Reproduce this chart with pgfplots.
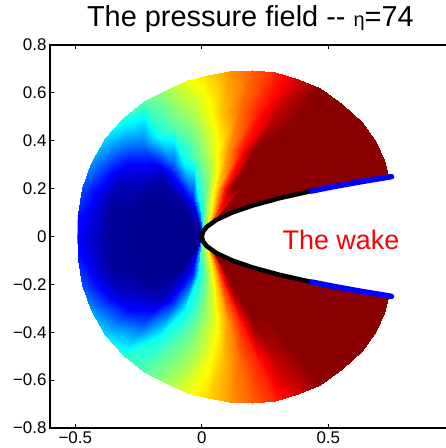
\documentclass[border=0pt]{standalone}
\usepackage{pgfplots}
\pgfplotsset{compat=1.18}
\usepackage{fontspec}
\setmainfont{Liberation Sans}
\begin{document}
\begin{tikzpicture}
\begin{axis}[name=ax, scale only axis, width=404.8bp, height=383bp,
  xmin=-0.6, xmax=1.0, ymin=-0.8, ymax=0.8,
  xtick={-0.5,0,0.5}, xticklabels={−0.5,0,0.5},
  ytick={-0.8,-0.6,-0.4,-0.2,0,0.2,0.4,0.6,0.8},
  yticklabels={−0.8,−0.6,−0.4,−0.2,0,0.2,0.4,0.6,0.8},
  tick label style={font=\fontsize{17}{17}\selectfont},
  tick align=inside, major tick length=4bp, tick style={black, line width=0.8bp},
  axis line style={line width=1.2bp},
  colormap={mjet}{rgb255(0cm)=(0,0,143) rgb255(1cm)=(0,0,255) rgb255(3cm)=(0,255,255) rgb255(5cm)=(255,255,0) rgb255(7cm)=(255,0,0) rgb255(8cm)=(138,0,0)},
  point meta min=0, point meta max=1,
  title={The pressure field -{}- {\fontsize{20}{20}\selectfont η}=74},
  title style={font=\fontsize{29}{29}\selectfont, at={(0.5,1)}, anchor=base, yshift=13bp, xshift=-2bp},
]
\addplot[surf, shader=interp, mesh/rows=39, mesh/cols=5, point meta=explicit]
 table[x expr={\thisrow{r}*cos(\thisrow{t})}, y expr={\thisrow{r}*sin(\thisrow{t})}, meta=v] {
t r v
19 0.743 1
19 0.752 1
19 0.762 1
19 0.771 1
19 0.780 1
24 0.460 1
24 0.543 1
24 0.625 1
24 0.708 1
24 0.790 1
30 0.289 1
30 0.415 1
30 0.541 1
30 0.667 1
30 0.793 1
37 0.184 1
37 0.336 1
37 0.489 1
37 0.641 1
37 0.793 1
45 0.118 1
45 0.285 1
45 0.452 1
45 0.618 1
45 0.785 1
53 0.079 1
53 0.253 1
53 0.427 1
53 0.601 1
53 0.775 1
60 0.056 0.75
60 0.232 1
60 0.408 1
60 0.584 0.95
60 0.760 0.92
67 0.038 0.62
67 0.215 0.82
67 0.392 0.85
67 0.568 0.845
67 0.745 0.84
74 0.025 0.55
74 0.200 0.67
74 0.375 0.73
74 0.550 0.77
74 0.725 0.78
81 0.013 0.50
81 0.185 0.55
81 0.357 0.61
81 0.528 0.69
81 0.700 0.725
88 0.003 0.45
88 0.171 0.44
88 0.339 0.53
88 0.507 0.60
88 0.675 0.665
95 0 0.30
95 0.164 0.38
95 0.3275 0.45
95 0.491 0.525
95 0.655 0.61
103 0 0.10
103 0.1575 0.15
103 0.315 0.37
103 0.4725 0.47
103 0.630 0.53
112 0 0
112 0.1525 0.06
112 0.305 0.18
112 0.4575 0.39
112 0.610 0.46
122 0 0
122 0.146 0
122 0.2925 0.04
122 0.439 0.22
122 0.585 0.41
133 0 0
133 0.14 0
133 0.28 0.01
133 0.42 0.13
133 0.56 0.34
145 0 0
145 0.134 0
145 0.2675 0
145 0.401 0.06
145 0.535 0.27
157 0 0
157 0.129 0
157 0.2575 0
157 0.386 0.02
157 0.515 0.20
169 0 0
169 0.125 0
169 0.25 0
169 0.375 0.015
169 0.50 0.15
180 0 0
180 0.1225 0
180 0.245 0
180 0.3675 0.01
180 0.49 0.12
191 0 0
191 0.125 0
191 0.25 0
191 0.375 0.015
191 0.50 0.15
203 0 0
203 0.129 0
203 0.2575 0
203 0.386 0.02
203 0.515 0.20
215 0 0
215 0.134 0
215 0.2675 0
215 0.401 0.06
215 0.535 0.27
227 0 0
227 0.14 0
227 0.28 0.01
227 0.42 0.13
227 0.56 0.34
238 0 0
238 0.146 0
238 0.2925 0.04
238 0.439 0.22
238 0.585 0.41
248 0 0
248 0.1525 0.06
248 0.305 0.18
248 0.4575 0.39
248 0.610 0.46
257 0 0.10
257 0.1575 0.15
257 0.315 0.37
257 0.4725 0.47
257 0.630 0.53
265 0 0.30
265 0.164 0.38
265 0.3275 0.45
265 0.491 0.525
265 0.655 0.61
272 0.003 0.45
272 0.171 0.44
272 0.339 0.53
272 0.507 0.60
272 0.675 0.665
279 0.013 0.50
279 0.185 0.55
279 0.357 0.61
279 0.528 0.69
279 0.700 0.725
286 0.025 0.55
286 0.200 0.67
286 0.375 0.73
286 0.550 0.77
286 0.725 0.78
293 0.038 0.62
293 0.215 0.82
293 0.392 0.85
293 0.568 0.845
293 0.745 0.84
300 0.056 0.75
300 0.232 1
300 0.408 1
300 0.584 0.95
300 0.760 0.92
307 0.079 1
307 0.253 1
307 0.427 1
307 0.601 1
307 0.775 1
315 0.118 1
315 0.285 1
315 0.452 1
315 0.618 1
315 0.785 1
323 0.184 1
323 0.336 1
323 0.489 1
323 0.641 1
323 0.793 1
330 0.289 1
330 0.415 1
330 0.541 1
330 0.667 1
330 0.793 1
336 0.460 1
336 0.543 1
336 0.625 1
336 0.708 1
336 0.790 1
341 0.743 1
341 0.752 1
341 0.762 1
341 0.771 1
341 0.780 1
};
\addplot[black, line width=4.5bp, no marks] coordinates {
(0.4332,-0.19) (0.3072,-0.16) (0.2028,-0.13) (0.12,-0.10) (0.0588,-0.07) (0.0192,-0.04) (0.0048,-0.02) (0,0)
(0.0048,0.02) (0.0192,0.04) (0.0588,0.07) (0.12,0.10) (0.2028,0.13) (0.3072,0.16) (0.4332,0.19)};
\addplot[blue, line width=5.5bp, line cap=round, no marks] coordinates {
(0.4332,0.19) (0.5292,0.21) (0.6348,0.23) (0.75,0.25)};
\addplot[blue, line width=5.5bp, line cap=round, no marks] coordinates {
(0.4332,-0.19) (0.5292,-0.21) (0.6348,-0.23) (0.75,-0.25)};
\addplot[blue, line width=2.5bp, no marks] coordinates {(-0.487,-0.03) (-0.485,0.09)};
\node[text=red, font=\fontsize{27}{27}\selectfont, anchor=base] at (axis cs:0.55,-0.056) {The wake};
\end{axis}
\pgfresetboundingbox
\path[use as bounding box] ([xshift=-50bp,yshift=-20bp]ax.south west) rectangle ([xshift=396bp,yshift=45bp]ax.north west);
\end{tikzpicture}
\end{document}
